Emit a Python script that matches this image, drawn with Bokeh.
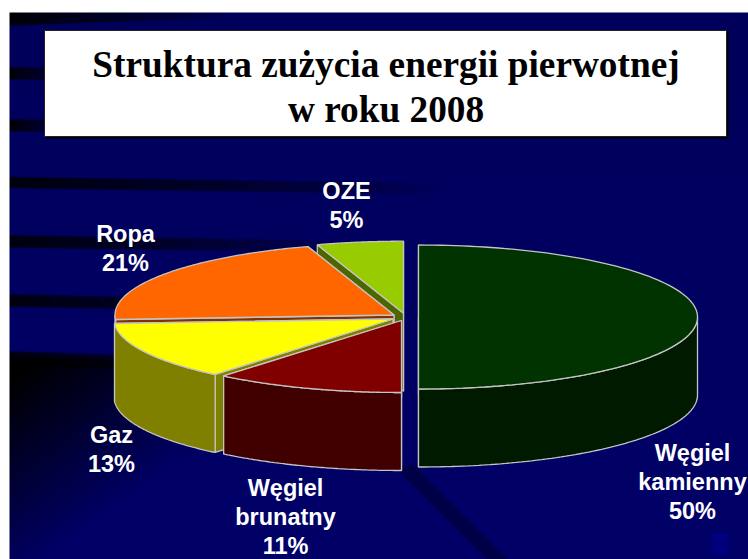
import numpy as np
from bokeh.plotting import figure
from bokeh.models import Range1d
from bokeh.core.properties import value
from bokeh.embed import file_html
from bokeh.resources import INLINE

# ---- data
names = ["Węgiel\nkamienny", "Węgiel\nbrunatny", "Gaz", "Ropa", "OZE"]
shares = [50, 11, 13, 21, 5]
title_lines = ["Struktura zużycia energii pierwotnej", "w roku 2008"]

# ---- style
top_colors = ["#003300", "#800000", "#FFFF00", "#FF6600", "#99CC00"]
side_colors = ["#001A00", "#400000", "#808000", "#803300", "#4D6600"]
EDGE = "#C4C4C4"

# ---- layout, in page pixels
centres = [(418, 316.5), (401, 320), (392.5, 318.5), (393.5, 314.5), (403, 312.7)]
A, B, DEPTH = 279, 72, 78
label_pos = [(692, 452), (285, 487), (111, 434), (125, 233), (346, 190)]
LINE_H = 29.4

W, H = 748, 559
p = figure(width=W, height=H, output_backend="svg", toolbar_location=None,
           x_range=Range1d(0, 748), y_range=Range1d(559, 0),
           min_border=0, outline_line_color=None, background_fill_color="white",
           border_fill_color="white")
p.axis.visible = False
p.grid.visible = False

# ---- slide background (gradient with dark streaks)
L, T = 9, 12
xx, yy = np.meshgrid(np.arange(L, 748) + .5, np.arange(T, 559) + .5)
blue = 90 + 14 * (yy - T) / (559 - T)
m = np.ones_like(xx)
streaks = [(18, 7, -0.035, 220, .9), (73, 6, 0, 60, .9), (125, 6, 0, 60, .9),
           (182, 5.5, 0.015, 430, .85), (241, 6, 0.015, 330, .85),
           (300, 6, 0.02, 330, .85), (358, 7, 0.03, 330, .85)]
for y0, th, sl, xend, st in streaks:
    c = y0 + sl * (xx - L)
    band = np.clip(th + .5 - np.abs(yy - c), 0, 1)
    m *= 1 - st * band * np.clip(1 - (xx - L) / xend, 0, 1) ** 0.7
below = np.clip(yy - (356 + .03 * (xx - L)), 0, 1)
m *= 1 - below * np.clip(1.1 - (xx - L) / 280 - (yy - 356) / 210, 0, 1)
d = (yy - 470) - (xx - 408) * 1.0
band2 = np.clip(11 - np.abs(d), 0, 1) * (yy > 465) * (xx > 400)
m *= 1 - .3 * band2
fleck = (xx > 712) & (xx < 728) & (yy > 533) & (yy < 554)
m[fleck] = 128 / blue[fleck]
b = np.clip(blue * m, 0, 255).astype(np.uint8)
img = np.zeros(b.shape, dtype=np.uint32)
view = img.view(dtype=np.uint8).reshape((*b.shape, 4))
view[..., 2] = b
view[..., 3] = 255
p.image_rgba(image=[img], x=L, y=T, dw=748 - L, dh=559 - T)

# ---- title box
p.quad(left=46, right=728, top=32, bottom=138, fill_color="#000000", line_color=None)
p.quad(left=44, right=726, top=30, bottom=136, fill_color="white", line_color="#222222", line_width=1)
p.text(x=[385.5, 385.5], y=[63.5, 108.5], text=title_lines, text_color="black",
       text_font=value("Liberation Serif"), text_font_style="bold", text_font_size="37.3px",
       text_align="center", text_baseline="middle")

# ---- 3D pie: clockwise from 12 o'clock
def rim(cx, cy, t):
    return cx + A * np.sin(t), cy - B * np.cos(t)

edges = np.cumsum([0] + shares) / sum(shares) * 2 * np.pi
for i in range(len(shares) - 1, -1, -1):
    t0, t1 = edges[i], edges[i + 1]
    cx, cy = centres[i]
    # cut faces
    for t in (t1, t0):
        rx, ry = rim(cx, cy, t)
        p.patch([cx, rx, rx, cx], [cy, ry, ry + DEPTH, cy + DEPTH],
                fill_color=side_colors[i], line_color=EDGE, line_width=1.3)
    # outer wall, only the part facing the viewer
    a, b_ = max(t0, np.pi / 2), min(t1, 3 * np.pi / 2)
    if a < b_:
        t = np.linspace(a, b_, 80)
        rx, ry = rim(cx, cy, t)
        p.patch(np.r_[rx, rx[::-1]], np.r_[ry, ry[::-1] + DEPTH],
                fill_color=side_colors[i], line_color=EDGE, line_width=1.3)
    # top
    t = np.linspace(t0, t1, 120)
    rx, ry = rim(cx, cy, t)
    p.patch(np.r_[cx, rx], np.r_[cy, ry], fill_color=top_colors[i], line_color=EDGE, line_width=1.3)

# ---- labels
lx, ly, lt = [], [], []
for name, share, (x, y) in zip(names, shares, label_pos):
    for k, line in enumerate(name.split("\n") + [f"{share}%"]):
        lx.append(x); ly.append(y + k * LINE_H); lt.append(line)
p.text(x=lx, y=ly, text=lt, text_color="white", text_font=value("Liberation Sans"),
       text_font_style="bold", text_font_size="23.5px", text_align="center", text_baseline="middle")

open("out.html", "w").write(file_html(p, INLINE))
